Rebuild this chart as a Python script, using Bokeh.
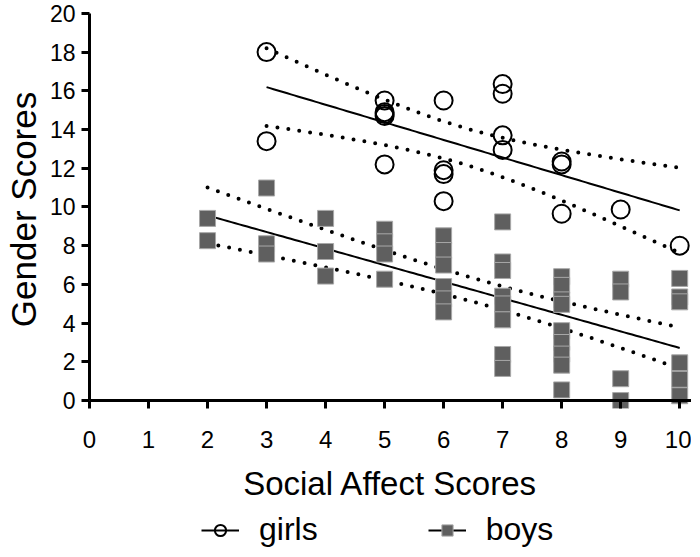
import numpy as np
from bokeh.plotting import figure
from bokeh.layouts import column
from bokeh.models import Range1d, FixedTicker, Legend, LegendItem, Span
from bokeh.embed import file_html
from bokeh.resources import INLINE

# ---- data ----
girls_x = [3, 3, 5, 5, 5, 5, 5, 6, 6, 6, 6, 7, 7, 7, 7, 8, 8, 8, 9, 10]
girls_y = [18.0, 13.4, 15.5, 14.9, 14.8, 14.7, 12.2, 15.5, 11.9, 11.7, 10.3,
           16.35, 15.85, 13.7, 12.95, 12.35, 12.2, 9.65, 9.87, 8.0]

boys_x = [2, 2,
          3, 3, 3,
          4, 4, 4,
          5, 5, 5, 5,
          6, 6, 6, 6, 6, 6,
          7, 7, 7, 7, 7, 7, 7, 7,
          8, 8, 8, 8, 8, 8, 8, 8, 8,
          9, 9, 9, 9,
          10, 10, 10, 10, 10, 10]
boys_y = [9.41, 8.26,
          10.98, 8.1, 7.57,
          9.41, 7.7, 6.43,
          8.85, 8.2, 7.57, 6.27,
          8.51, 7.75, 7.0, 5.89, 5.25, 4.58,
          9.23, 7.16, 6.72, 5.39, 4.99, 4.17, 2.38, 1.66,
          6.4, 5.95, 5.2, 4.97, 3.61, 3.0, 2.4, 1.83, 0.55,
          6.27, 5.61, 1.13, 0.0,
          6.31, 5.35, 5.1, 1.95, 1.1, 0.25]

x_ticks = [0, 1, 2, 3, 4, 5, 6, 7, 8, 9, 10]
y_ticks = [0, 2, 4, 6, 8, 10, 12, 14, 16, 18, 20]
series_labels = ["girls", "boys"]

# two-sided 95% t critical values for df = n - 2
T_CRIT = {18: 2.101, 43: 2.017}


def fit_with_ci(x, y, x_from, x_to):
    x = np.asarray(x, float)
    y = np.asarray(y, float)
    n = len(x)
    slope, intercept = np.polyfit(x, y, 1)
    xs = np.linspace(x_from, x_to, 120)
    yhat = intercept + slope * xs
    resid = y - (intercept + slope * x)
    s = np.sqrt(np.sum(resid ** 2) / (n - 2))
    sxx = np.sum((x - x.mean()) ** 2)
    se = s * np.sqrt(1.0 / n + (xs - x.mean()) ** 2 / sxx)
    t = T_CRIT.get(n - 2, 2.0)
    return xs, yhat, yhat + t * se, yhat - t * se


FONT = "Liberation Sans"
LINE_STYLE = dict(line_color="black", line_width=2)
SQUARE_STYLE = dict(marker="square", size=16, fill_color="#5f5f5f",
                    line_color="#a8a8a8", line_width=1)
CIRCLE_STYLE = dict(marker="circle", size=18, fill_alpha=0,
                    line_color="black", line_width=2)

p = figure(frame_width=602, frame_height=398,
           x_range=Range1d(0, 10.2), y_range=Range1d(-0.41, 20.15),
           output_backend="svg", toolbar_location=None,
           min_border_left=82, min_border_right=0, min_border_top=10,
           min_border_bottom=0)
p.outline_line_color = None
p.xgrid.visible = False
p.ygrid.visible = False

# regression lines and 95% confidence bands
gxs, gy, gup, glo = fit_with_ci(girls_x, girls_y, 3, 10)
bxs, by, bup, blo = fit_with_ci(boys_x, boys_y, 2, 10)

dot = dict(line_color="black", line_width=4, line_dash="0 11", line_cap="round")
p.line(gxs, gup, **dot)
p.line(gxs, glo, **dot)
p.line(bxs, bup, **dot)
p.line(bxs, blo, **dot)

p.line(gxs, gy, **LINE_STYLE)
p.line(bxs, by, **LINE_STYLE)

p.scatter(boys_x, boys_y, **SQUARE_STYLE)
p.scatter(girls_x, girls_y, **CIRCLE_STYLE)

# x axis line sits at y = 0 (drawn as a span); ticks hang from it
p.add_layout(Span(location=0, dimension="width", line_color="black",
                  line_width=3, level="overlay"))

for ax in (p.xaxis[0], p.yaxis[0]):
    ax.axis_line_width = 3
    ax.axis_line_color = "black"
    ax.major_tick_line_width = 3
    ax.major_tick_line_color = "black"
    ax.minor_tick_line_color = None
    ax.major_label_text_font = FONT
    ax.major_label_text_color = "black"
    ax.axis_label_text_font = FONT
    ax.axis_label_text_font_style = "normal"
    ax.axis_label_text_color = "black"

p.xaxis.major_label_text_font_size = "24px"
p.yaxis.major_label_text_font_size = "23px"
p.xaxis.axis_label_text_font_size = "33px"
p.yaxis.axis_label_text_font_size = "35px"
p.xaxis.axis_line_color = None
p.xaxis.major_tick_in = 8
p.xaxis.major_tick_out = 0
p.yaxis.major_tick_in = 0
p.yaxis.major_tick_out = 8

p.xaxis.ticker = FixedTicker(ticks=x_ticks)
p.yaxis.ticker = FixedTicker(ticks=y_ticks)
p.yaxis.bounds = (0, 20)
p.xaxis.axis_label = "Social Affect Scores"
p.yaxis.axis_label = "Gender Scores"
p.xaxis.major_label_standoff = 22
p.yaxis.major_label_standoff = 6
p.xaxis.axis_label_standoff = 14
p.yaxis.axis_label_standoff = 4

# ---- legend strip (separate small figure under the chart) ----
# its renderers hold the series data but the strip's ranges keep them out of view,
# so only the legend glyphs are seen
pl = figure(width=684, height=44, x_range=Range1d(-1, 0), y_range=Range1d(-1, 0),
            output_backend="svg", toolbar_location=None,
            x_axis_type=None, y_axis_type=None,
            min_border_left=0, min_border_right=0, min_border_top=0,
            min_border_bottom=0)
pl.outline_line_color = None
pl.xgrid.visible = False
pl.ygrid.visible = False
lg_gl = pl.line(gxs, gy, **LINE_STYLE)
lg_gs = pl.scatter(girls_x, girls_y, **CIRCLE_STYLE)
lg_bl = pl.line(bxs, by, **LINE_STYLE)
lg_bs = pl.scatter(boys_x, boys_y, **SQUARE_STYLE)

legend = Legend(items=[LegendItem(label=series_labels[0], renderers=[lg_gl, lg_gs]),
                       LegendItem(label=series_labels[1], renderers=[lg_bl, lg_bs])],
                orientation="horizontal", location=(112, 0))
legend.label_text_font = FONT
legend.label_text_font_size = "32px"
legend.label_text_color = "black"
legend.label_height = 28
legend.glyph_width = 38
legend.glyph_height = 28
legend.spacing = 110
legend.label_standoff = 20
legend.border_line_color = None
legend.background_fill_alpha = 0
legend.padding = 0
legend.margin = 0
pl.add_layout(legend, "center")

layout = column(p, pl, spacing=0)
open("out.html", "w").write(file_html(layout, INLINE))
